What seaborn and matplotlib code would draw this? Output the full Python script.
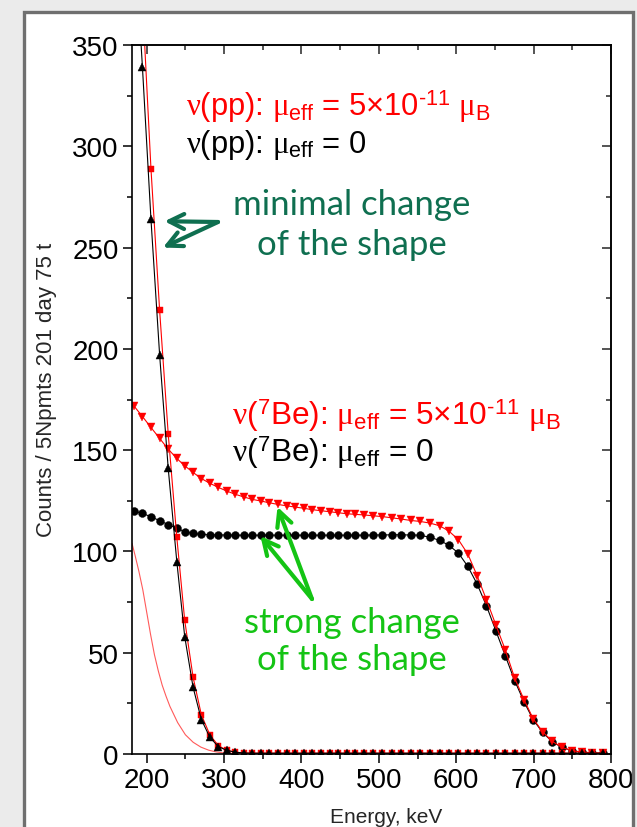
import numpy as np
import matplotlib
matplotlib.use("Agg")
import matplotlib.pyplot as plt
import seaborn as sns
from matplotlib.patches import Rectangle
from matplotlib.ticker import MultipleLocator

# Bin centres of the 5-Npmts bins, converted to energy (keV)
energy_kev = [183.3, 194.5, 205.5, 216.7, 227.8, 238.9, 249.1, 259.9, 270.6, 281.7,
              292.7, 303.5, 314.5, 325.6, 336.3, 347.4, 358.6, 369.6, 380.8, 391.9,
              403.0, 414.1, 425.3, 436.3, 447.4, 458.6, 469.6, 480.8, 492.5, 504.5,
              516.5, 528.6, 541.0, 553.4, 565.8, 578.4, 590.6, 602.8, 615.0, 627.0,
              639.0, 651.1, 663.5, 675.5, 687.6, 699.6, 711.6, 723.8, 736.5, 749.5,
              762.8, 776.0, 789.3]

# pp neutrinos, no magnetic moment
pp_mu0 = [410, 339, 264, 197, 141, 95, 58, 33, 17, 8.2,
          3.6, 1.8, 0.9, 0.5, 0.4, 0.4, 0.4, 0.4, 0.4, 0.4,
          0.4, 0.4, 0.4, 0.4, 0.4, 0.4, 0.4, 0.4, 0.4, 0.4,
          0.4, 0.4, 0.4, 0.4, 0.4, 0.4, 0.4, 0.4, 0.4, 0.4,
          0.4, 0.4, 0.4, 0.4, 0.4, 0.4, 0.4, 0.4, 0.4, 0.4,
          0.4, 0.4, 0.4]

# pp neutrinos, mu_eff = 5e-11 mu_B
pp_mu5 = [445, 372, 289, 219, 158, 107, 66, 38, 19.4, 9.4,
          4.1, 1.8, 0.9, 0.5, 0.4, 0.4, 0.4, 0.4, 0.4, 0.4,
          0.4, 0.4, 0.4, 0.4, 0.4, 0.4, 0.4, 0.4, 0.4, 0.4,
          0.4, 0.4, 0.4, 0.4, 0.4, 0.4, 0.4, 0.4, 0.4, 0.4,
          0.4, 0.4, 0.4, 0.4, 0.4, 0.4, 0.4, 0.4, 0.4, 0.4,
          0.4, 0.4, 0.4]

# 7Be neutrinos, no magnetic moment
be7_mu0 = [120.0, 118.8, 117.1, 115.2, 113.2, 111.5, 109.7, 108.9, 108.4, 108.2,
           108.1, 108.1, 108.0, 108.0, 108.0, 108.0, 108.0, 108.0, 108.0, 108.0,
           108.0, 108.0, 108.0, 108.0, 108.0, 108.0, 108.0, 108.0, 108.1, 108.1,
           108.2, 108.2, 108.1, 108.0, 107.0, 105.5, 103.0, 99.2, 92.6, 83.9,
           73.2, 60.9, 48.4, 36.2, 25.8, 16.8, 10.7, 6.1, 3.3, 1.6,
           0.8, 0.4, 0.3]

# 7Be neutrinos, mu_eff = 5e-11 mu_B
be7_mu5 = [171.9, 166.6, 161.2, 155.8, 150.5, 145.9, 142.3, 139.0, 136.0, 133.6,
           131.6, 129.8, 128.2, 126.9, 125.7, 124.9, 124.0, 123.2, 122.5, 121.9,
           121.3, 120.6, 120.1, 119.6, 119.1, 118.6, 118.3, 118.0, 117.6, 117.2,
           116.6, 116.0, 115.3, 114.8, 114.0, 112.7, 110.0, 105.8, 98.7, 88.0,
           76.2, 63.8, 51.3, 37.5, 26.8, 17.3, 11.0, 6.3, 3.3, 1.6,
           1.0, 0.6, 0.4]

# Magnetic-moment contribution alone (smooth curve)
mu_only_energy = [181, 185, 190, 195, 200, 205, 210, 215, 220, 225,
                  230, 240, 250, 260, 270, 280, 290, 300, 310, 320]
mu_only_counts = [104, 98, 90, 81, 70, 59, 49, 41, 34, 28.5,
                  23.5, 15.5, 9.5, 5.8, 3.4, 1.9, 1.0, 0.5, 0.2, 0.1]

x_major = [200, 300, 400, 500, 600, 700, 800]
y_major = [0, 50, 100, 150, 200, 250, 300, 350]

sns.set_theme(style="white")
plt.rcParams['font.family'] = ['Liberation Sans', 'DejaVu Sans']
plt.rcParams['mathtext.fontset'] = 'custom'
plt.rcParams['mathtext.rm'] = 'Liberation Sans'
plt.rcParams['mathtext.sf'] = 'Liberation Sans'
plt.rcParams['mathtext.it'] = 'Liberation Serif'
plt.rcParams['mathtext.bf'] = 'Liberation Sans:bold'

W, H = 637, 828
fig = plt.figure(figsize=(W / 100, H / 100), dpi=100, facecolor='#ebebeb')


def fx(px):
    return px / W


def fy(py):
    return 1 - py / H


# white slide panel with grey frame
fig.patches.append(Rectangle((fx(24), fy(840)), fx(633) - fx(24), fy(13) - fy(840),
                             transform=fig.transFigure, facecolor='white',
                             edgecolor='none', zorder=-5))
fig.patches.append(Rectangle((fx(24), fy(840)), fx(633) - fx(24), fy(13) - fy(840),
                             transform=fig.transFigure, facecolor='none',
                             edgecolor='#6f6f6f', lw=2.4, zorder=10))

ax = fig.add_axes([fx(132), fy(755), fx(611) - fx(132), fy(46) - fy(755)])
ax.set_facecolor('white')

line_kw = dict(ax=ax, estimator=None, sort=False, legend=False, lw=0.8)
sns.lineplot(x=mu_only_energy, y=mu_only_counts, color='#ff5a5a', **line_kw)
sns.lineplot(x=energy_kev, y=be7_mu0, color='black', marker='o', markersize=5.7,
             markeredgecolor='black', markeredgewidth=0.3, **line_kw)
sns.lineplot(x=energy_kev, y=be7_mu5, color='red', marker='v', markersize=6.2,
             markeredgecolor='red', markeredgewidth=0.3, **line_kw)
sns.lineplot(x=energy_kev, y=pp_mu5, color='red', marker='s', markersize=4.8,
             markeredgecolor='red', markeredgewidth=0.3, **line_kw)
sns.lineplot(x=energy_kev, y=pp_mu0, color='black', marker='^', markersize=6,
             markeredgecolor='black', markeredgewidth=0.3, **line_kw)

ax.set_xlim(181, 800)
ax.set_ylim(0, 350)
ax.set_xticks(x_major)
ax.set_yticks(y_major)
ax.xaxis.set_minor_locator(MultipleLocator(50))
ax.yaxis.set_minor_locator(MultipleLocator(25))
ax.tick_params(which='both', direction='out', width=1.1, colors='black',
               labelsize=20, pad=3, bottom=True, left=True)
ax.tick_params(which='major', length=6.5)
ax.tick_params(which='minor', length=3.8)
for s in ax.spines.values():
    s.set_color('black')
    s.set_linewidth(1.2)

# mirrored ticks pointing inward on top and right
top = ax.secondary_xaxis('top')
top.set_xticks(x_major)
top.xaxis.set_minor_locator(MultipleLocator(50))
top.tick_params(which='both', direction='in', width=1.1, labeltop=False)
top.tick_params(which='major', length=6.5)
top.tick_params(which='minor', length=3.8)
right = ax.secondary_yaxis('right')
right.set_yticks(y_major)
right.yaxis.set_minor_locator(MultipleLocator(25))
right.tick_params(which='both', direction='in', width=1.1, labelright=False)
right.tick_params(which='major', length=6.5)
right.tick_params(which='minor', length=3.8)

ax.set_xlabel('Energy, keV', fontsize=15)
ax.xaxis.set_label_coords(0.53, -0.075)
ax.set_ylabel('Counts / 5Npmts 201 day 75 t', fontsize=16)
ax.yaxis.set_label_coords(-0.157, 0.515)

# legend-style captions
sup = '$^{\\rm \u201011}$'
fig.text(fx(186), fy(116), r'$\nu$(pp): $\mu_{\rm eff}$ = 5×10' + sup + r' $\mu_{\rm B}$',
         color='red', fontsize=22.2, va='baseline')
fig.text(fx(186), fy(153), r'$\nu$(pp): $\mu_{\rm eff}$ = 0',
         color='black', fontsize=22.2, va='baseline')
fig.text(fx(232), fy(425), r'$\nu$($^{\rm 7}$Be): $\mu_{\rm eff}$ = 5×10' + sup + r' $\mu_{\rm B}$',
         color='red', fontsize=22.8, va='baseline')
fig.text(fx(232), fy(462), r'$\nu$($^{\rm 7}$Be): $\mu_{\rm eff}$ = 0',
         color='black', fontsize=22.8, va='baseline')

dark_green = '#0f6f50'
bright_green = '#14c414'
fig.text(fx(352), fy(215), 'minimal change', color=dark_green, fontsize=25,
         family='Lato', ha='center', va='baseline')
fig.text(fx(352), fy(255), 'of the shape', color=dark_green, fontsize=25,
         family='Lato', ha='center', va='baseline')
fig.text(fx(352), fy(633), 'strong change', color=bright_green, fontsize=25,
         family='Lato', ha='center', va='baseline')
fig.text(fx(352), fy(670), 'of the shape', color=bright_green, fontsize=25,
         family='Lato', ha='center', va='baseline')

arrow_kw = dict(arrowstyle='->,head_length=0.9,head_width=0.45', lw=3,
                shrinkA=0, shrinkB=0)
for head in [(223, 263), (221, 250)]:
    ax.annotate('', xy=head, xycoords='data', xytext=(fx(218), fy(223)),
                textcoords='figure fraction',
                arrowprops=dict(color=dark_green, **arrow_kw))
for head in [(369, 122), (347, 107.6)]:
    ax.annotate('', xy=head, xycoords='data', xytext=(fx(312), fy(600)),
                textcoords='figure fraction',
                arrowprops=dict(color=bright_green, **arrow_kw))

fig.savefig('out.png', dpi=100, facecolor=fig.get_facecolor())
